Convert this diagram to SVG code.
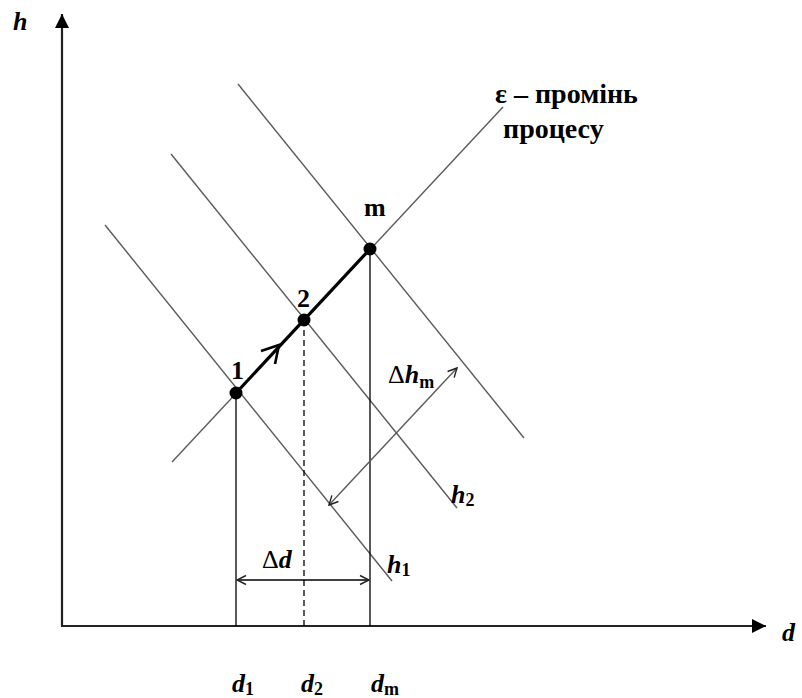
<svg xmlns="http://www.w3.org/2000/svg" width="802" height="698" viewBox="0 0 802 698">
<defs>
<style>
.t{font-family:"Liberation Serif","Times New Roman",serif;font-weight:bold;fill:#000}
.i{font-style:italic}
.g{stroke:#5a5a5a;stroke-width:1.4;fill:none}
.k{stroke:#000;stroke-width:1.3;fill:none}
.ax{stroke:#222;stroke-width:2.2;fill:none}
</style>
<marker id="fa" viewBox="0 0 14 14" refX="14" refY="7" markerWidth="14" markerHeight="14" markerUnits="userSpaceOnUse" orient="auto">
<path d="M0,0 L14,7 L0,14 Z" fill="#000"/>
</marker>
<marker id="oa" viewBox="0 0 12 12" refX="11" refY="6" markerWidth="12" markerHeight="12" markerUnits="userSpaceOnUse" orient="auto-start-reverse">
<path d="M2,1.5 L11,6 L2,10.5" fill="none" stroke="#222" stroke-width="1.4"/>
</marker>
</defs>
<rect width="802" height="698" fill="#fff"/>
<g id="axes">
<line class="ax" x1="62" y1="627" x2="62" y2="14" marker-end="url(#fa)"/>
<line class="ax" x1="61" y1="626" x2="766" y2="626" marker-end="url(#fa)"/>
<text class="t i" x="13" y="30" font-size="26">h</text>
<text class="t i" x="782" y="641" font-size="26">d</text>
</g>
<g id="connectors">
<line class="g" x1="172" y1="462" x2="503" y2="107"/>
<line class="g" x1="105" y1="225" x2="392" y2="581"/>
<line class="g" x1="171" y1="154" x2="457" y2="508"/>
<line class="g" x1="238" y1="84" x2="524" y2="438"/>
<line class="k" x1="236" y1="393" x2="236" y2="626"/>
<line class="k" x1="304" y1="320" x2="304" y2="626" stroke-dasharray="6,4"/>
<line class="k" x1="370" y1="249" x2="370" y2="626"/>
<line stroke="#000" stroke-width="3.2" x1="236" y1="393" x2="370" y2="249"/>
<path d="M261,351 L279,345 L275,364" fill="none" stroke="#000" stroke-width="2.6"/>
<line class="k" x1="237" y1="580" x2="369" y2="580" marker-start="url(#oa)" marker-end="url(#oa)"/>
<line class="g" stroke="#333" x1="329" y1="505" x2="457" y2="368" marker-start="url(#oa)" marker-end="url(#oa)"/>
</g>
<g id="point1">
<circle cx="236" cy="393" r="6.5" fill="#000"/>
<text class="t" x="231" y="379" font-size="26">1</text>
</g>
<g id="point2">
<circle cx="304" cy="320" r="6.5" fill="#000"/>
<text class="t" x="297" y="307" font-size="26">2</text>
</g>
<g id="pointm">
<circle cx="370" cy="249" r="6.5" fill="#000"/>
<text class="t" x="364" y="216" font-size="26">m</text>
</g>
<g id="ray-label">
<text class="t" x="495" y="103" font-size="28">ε – промінь</text>
<text class="t" x="503" y="138" font-size="28">процесу</text>
</g>
<g id="labels">
<text class="t" x="262" y="568" font-size="26"><tspan font-weight="normal">Δ</tspan><tspan class="i">d</tspan></text>
<text class="t" x="388" y="383" font-size="26"><tspan font-weight="normal">Δ</tspan><tspan class="i">h</tspan><tspan font-size="18" dy="5">m</tspan></text>
<text class="t i" x="387" y="573" font-size="26">h<tspan font-style="normal" font-size="18" dy="3">1</tspan></text>
<text class="t i" x="451" y="503" font-size="26">h<tspan font-style="normal" font-size="18" dy="3">2</tspan></text>
<text class="t i" x="232" y="692" font-size="26">d<tspan font-style="normal" font-size="18" dy="3">1</tspan></text>
<text class="t i" x="301" y="692" font-size="26">d<tspan font-style="normal" font-size="18" dy="3">2</tspan></text>
<text class="t i" x="371" y="692" font-size="26">d<tspan font-style="normal" font-size="18" dy="3">m</tspan></text>
</g>
</svg>
